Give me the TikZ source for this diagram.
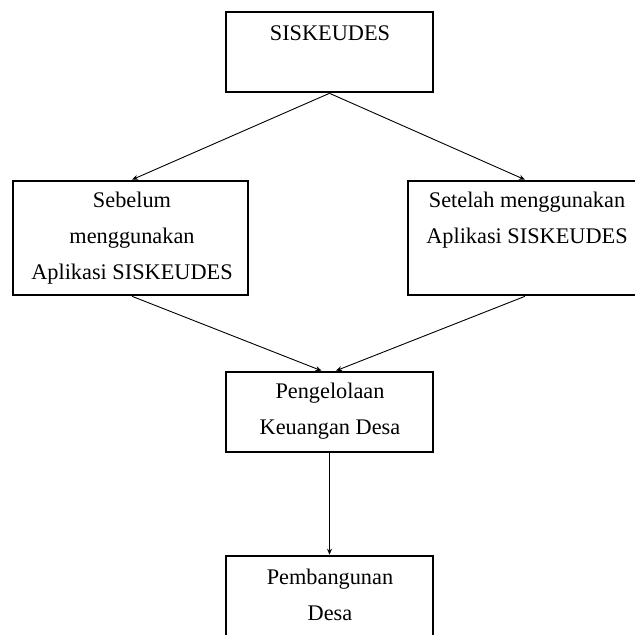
\documentclass[tikz,border=0pt]{standalone}
\usepackage{fontspec}
\setmainfont{Liberation Serif}
\usepackage{tikz}
\usetikzlibrary{arrows.meta,positioning}

\begin{document}
\begin{tikzpicture}[
    x=1pt,y=-1pt,
    box/.style={rectangle,draw,line width=2.6pt,inner sep=0pt},
    txt/.style={anchor=north,align=center,inner sep=0pt,
                font=\fontsize{22.3}{36}\selectfont},
    >={Stealth[length=6pt,width=5pt]},line width=0.9pt
  ]
    \clip (0,0) rectangle (635,635);
    \useasboundingbox (0,0) rectangle (635,635);
    % boxes
    \node[box,minimum width=207pt,minimum height=80pt] (sis) at (329.5,52) {};
    \node[box,minimum width=235pt,minimum height=114pt] (sebelum) at (130.5,238) {};
    \node[box,minimum width=236pt,minimum height=114pt] (setelah) at (526,238) {};
    \node[box,minimum width=207pt,minimum height=80pt] (kelola) at (329.5,412) {};
    \node[box,minimum width=207pt,minimum height=80pt] (bangun) at (329.5,596) {};
    % texts
    \node[txt] (sis-t) at (330,25) {SISKEUDES};
    \node[txt] (sebelum-t) at (132,192) {Sebelum\\menggunakan\\Aplikasi SISKEUDES};
    \node[txt] (setelah-t) at (527,192) {Setelah menggunakan\\Aplikasi SISKEUDES};
    \node[txt] (kelola-t) at (330,383) {Pengelolaan\\Keuangan Desa};
    \node[txt] (bangun-t) at (330,569) {Pembangunan\\Desa};
    % arrows
    \draw[->] (sis.south) -- ([xshift=1.5pt]sebelum.north);
    \draw[->] (sis.south) -- ([xshift=-1pt]setelah.north);
    \draw[->] ([xshift=1.5pt]sebelum.south) -- ([xshift=-8pt]kelola.north);
    \draw[->] ([xshift=-1pt]setelah.south) -- ([xshift=6.5pt]kelola.north);
    \draw[->] (kelola.south) -- (bangun.north);
  \end{tikzpicture}
\end{document}
